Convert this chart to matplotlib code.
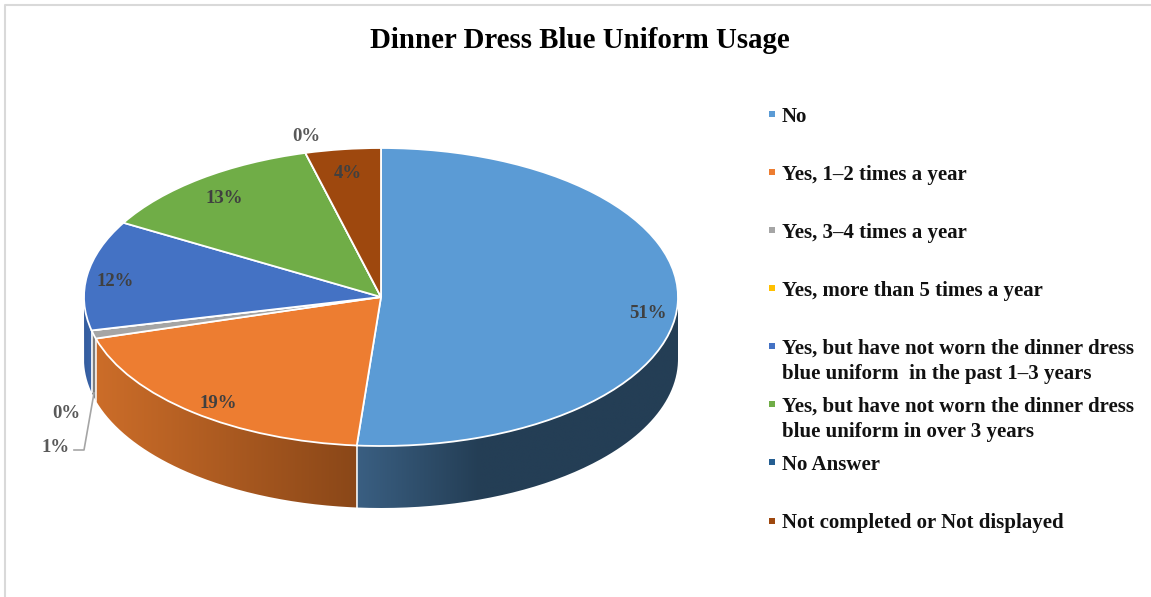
#!/usr/bin/env python3
"""
Dinner Dress Blue Uniform Usage - pie with a fake 3D wall
"""

import matplotlib
matplotlib.use('Agg')
import matplotlib.pyplot as plt
import numpy as np
from matplotlib.colors import LinearSegmentedColormap
from matplotlib.path import Path

title = 'Dinner Dress Blue Uniform Usage'
categories = [
    'No',
    'Yes, 1–2 times a year',
    'Yes, 3–4 times a year',
    'Yes, more than 5 times a year',
    'Yes, but have not worn the dinner dress\nblue uniform  in the past 1–3 years',
    'Yes, but have not worn the dinner dress\nblue uniform in over 3 years',
    'No Answer',
    'Not completed or Not displayed',
]
values = [51.3, 19.2, 0.9, 0.0, 11.9, 12.6, 0.0, 4.1]
colors = ['#5B9BD5', '#ED7D31', '#A5A5A5', '#FFC000', '#4472C4', '#70AD47', '#255E91', '#9E480E']

# wall shading, left to right, for the slices that show a front wall
wall_shades = {
    0: [(0.0, '#3A5F82'), (0.38, '#243E55'), (1.0, '#243E55')],
    1: [(0.0, '#CC6D29'), (1.0, '#8A4718')],
    2: [(0.0, '#7F7F7F'), (1.0, '#7F7F7F')],
    4: [(0.0, '#345C9E'), (1.0, '#3A64A8')],
}

# pixel layout of the reference
W, H = 1151, 597
CX, CY = 381, 297
RX, RY = 297, 149
DEPTH = 62 / RY


def px(x, y):
    return (x - CX) / RX, (CY - y) / RY


fig = plt.figure(figsize=(W / 100, H / 100), dpi=100, facecolor='white')
ax = fig.add_axes([0, 0, 1, 1])

# unit circle in data space, the axes limits squash it into the ellipse
wedges, _ = ax.pie(values, colors=colors, startangle=90, counterclock=False, radius=1,
                   wedgeprops={'edgecolor': 'white', 'linewidth': 1.3, 'zorder': 5})

# front wall
fractions = np.cumsum([0] + values) / sum(values)
for i, shade in wall_shades.items():
    start = max(fractions[i], 0.25)
    end = min(fractions[i + 1], 0.75)
    theta = np.radians(90 - 360 * np.linspace(start, end, 120))
    xs, ys = np.cos(theta), np.sin(theta)
    verts = np.vstack([np.column_stack([xs, ys]),
                       np.column_stack([xs[::-1], ys[::-1] - DEPTH]),
                       [[xs[0], ys[0]]]])
    cmap = LinearSegmentedColormap.from_list(f'wall{i}', shade)
    im = ax.imshow(np.linspace(0, 1, 256).reshape(1, -1),
                   cmap=cmap, aspect='auto', interpolation='bilinear', zorder=2,
                   extent=(xs.min(), xs.max(), verts[:, 1].min(), verts[:, 1].max()))
    im.set_clip_path(Path(verts), transform=ax.transData)
    # white seam between neighbouring walls
    if i != 4:
        ax.plot([xs[-1], xs[-1]], [ys[-1], ys[-1] - DEPTH], color='white', lw=1.1, zorder=3)

ax.set_aspect('auto')
ax.set_xlim(-CX / RX, (W - CX) / RX)
ax.set_ylim((CY - H) / RY, CY / RY)
ax.axis('off')

# percent labels
label_pos = [(648, 314), (218, 404), (56, 448), (66, 414), (115, 282), (224, 199), (306, 137), (348, 174)]
label_col = ['#404040', '#404040', '#595959', '#595959', '#404040', '#404040', '#595959', '#404040']
for v, pos, col in zip(values, label_pos, label_col):
    ax.text(*px(*pos), f'{v:.0f}%', ha='center', va='center', color=col, fontsize=13.5,
            fontweight='bold', family='Liberation Serif', zorder=7)

# leader line for the 1% label
lx, ly = zip(px(94, 393), px(84, 450), px(74, 450))
ax.plot(lx, ly, color='#A5A5A5', lw=1.2, zorder=6)

ax.text(*px(579.5, 41), title, ha='center', va='center', fontsize=20.8, fontweight='bold',
        family='Liberation Serif', color='black')

# legend, fixed 58 px pitch like the original
for i, (name, col) in enumerate(zip(categories, colors)):
    row_y = 114.5 + 58 * i
    ax.plot(*px(772, row_y), marker='s', ms=4.3, color=col, mew=0, ls='none', zorder=6)
    ax.text(*px(782, row_y - 7.5), name, ha='left', va='top', fontsize=15, fontweight='bold',
            family='Liberation Serif', color='#111111', linespacing=1.33)

# chart frame, only left and top are inside the crop
fx, fy = zip(px(5, H), px(5, 5), px(W, 5))
ax.plot(fx, fy, color='#D9D9D9', lw=1.5, zorder=1)

fig.savefig('out.png', dpi=100, facecolor='white')
